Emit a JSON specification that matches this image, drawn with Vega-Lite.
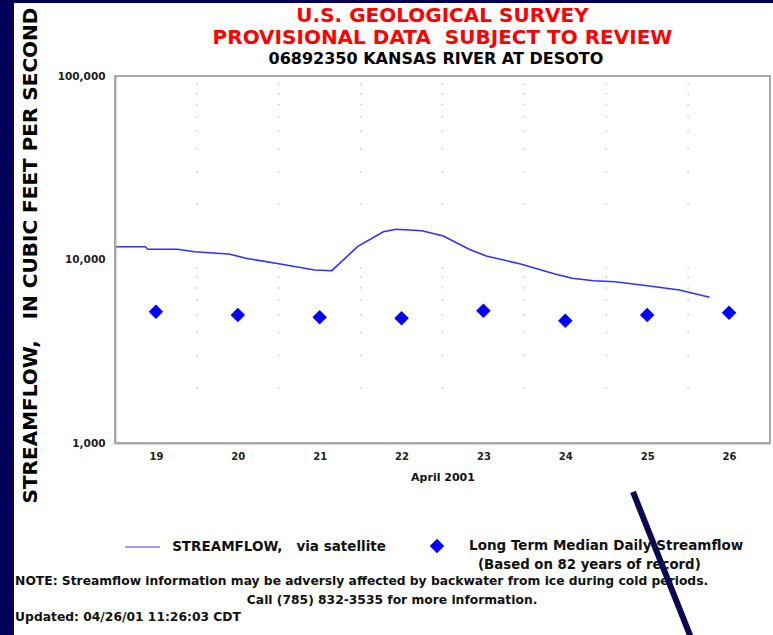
{
  "$schema": "https://vega.github.io/schema/vega-lite/v6.json",
  "width": 655,
  "height": 367,
  "autosize": "none",
  "padding": {"left": 115, "top": 76, "right": 3, "bottom": 192},
  "background": "white",
  "datasets": {
    "flow": [
      {"day": 18.516, "cfs": 11745},
      {"day": 18.867, "cfs": 11745},
      {"day": 18.904, "cfs": 11364},
      {"day": 19.261, "cfs": 11364},
      {"day": 19.470, "cfs": 11027},
      {"day": 19.890, "cfs": 10715},
      {"day": 20.099, "cfs": 10151},
      {"day": 20.519, "cfs": 9451},
      {"day": 20.938, "cfs": 8767},
      {"day": 21.148, "cfs": 8690},
      {"day": 21.462, "cfs": 11745},
      {"day": 21.777, "cfs": 14177},
      {"day": 21.934, "cfs": 14610},
      {"day": 22.249, "cfs": 14353},
      {"day": 22.510, "cfs": 13430},
      {"day": 22.825, "cfs": 11364},
      {"day": 23.035, "cfs": 10450},
      {"day": 23.454, "cfs": 9451},
      {"day": 23.873, "cfs": 8337},
      {"day": 24.083, "cfs": 7898},
      {"day": 24.345, "cfs": 7665},
      {"day": 24.607, "cfs": 7568},
      {"day": 25.027, "cfs": 7171},
      {"day": 25.394, "cfs": 6820},
      {"day": 25.762, "cfs": 6223}
    ],
    "median": [
      {"day": 19, "cfs": 5195},
      {"day": 20, "cfs": 4984},
      {"day": 21, "cfs": 4842},
      {"day": 22, "cfs": 4782},
      {"day": 23, "cfs": 5260},
      {"day": 24, "cfs": 4640},
      {"day": 25, "cfs": 4984},
      {"day": 26, "cfs": 5129}
    ],
    "grid": [
      {"d":19.5,"v":2000},{"d":19.5,"v":3000},{"d":19.5,"v":4000},{"d":19.5,"v":5000},{"d":19.5,"v":6000},{"d":19.5,"v":7000},{"d":19.5,"v":8000},{"d":19.5,"v":9000},
      {"d":19.5,"v":20000},{"d":19.5,"v":30000},{"d":19.5,"v":40000},{"d":19.5,"v":50000},{"d":19.5,"v":60000},{"d":19.5,"v":70000},{"d":19.5,"v":80000},{"d":19.5,"v":90000},
      {"d":20.5,"v":2000},{"d":20.5,"v":3000},{"d":20.5,"v":4000},{"d":20.5,"v":5000},{"d":20.5,"v":6000},{"d":20.5,"v":7000},{"d":20.5,"v":8000},{"d":20.5,"v":9000},
      {"d":20.5,"v":20000},{"d":20.5,"v":30000},{"d":20.5,"v":40000},{"d":20.5,"v":50000},{"d":20.5,"v":60000},{"d":20.5,"v":70000},{"d":20.5,"v":80000},{"d":20.5,"v":90000},
      {"d":21.5,"v":2000},{"d":21.5,"v":3000},{"d":21.5,"v":4000},{"d":21.5,"v":5000},{"d":21.5,"v":6000},{"d":21.5,"v":7000},{"d":21.5,"v":8000},{"d":21.5,"v":9000},
      {"d":21.5,"v":20000},{"d":21.5,"v":30000},{"d":21.5,"v":40000},{"d":21.5,"v":50000},{"d":21.5,"v":60000},{"d":21.5,"v":70000},{"d":21.5,"v":80000},{"d":21.5,"v":90000},
      {"d":22.5,"v":2000},{"d":22.5,"v":3000},{"d":22.5,"v":4000},{"d":22.5,"v":5000},{"d":22.5,"v":6000},{"d":22.5,"v":7000},{"d":22.5,"v":8000},{"d":22.5,"v":9000},
      {"d":22.5,"v":20000},{"d":22.5,"v":30000},{"d":22.5,"v":40000},{"d":22.5,"v":50000},{"d":22.5,"v":60000},{"d":22.5,"v":70000},{"d":22.5,"v":80000},{"d":22.5,"v":90000},
      {"d":23.5,"v":2000},{"d":23.5,"v":3000},{"d":23.5,"v":4000},{"d":23.5,"v":5000},{"d":23.5,"v":6000},{"d":23.5,"v":7000},{"d":23.5,"v":8000},{"d":23.5,"v":9000},
      {"d":23.5,"v":20000},{"d":23.5,"v":30000},{"d":23.5,"v":40000},{"d":23.5,"v":50000},{"d":23.5,"v":60000},{"d":23.5,"v":70000},{"d":23.5,"v":80000},{"d":23.5,"v":90000},
      {"d":24.5,"v":2000},{"d":24.5,"v":3000},{"d":24.5,"v":4000},{"d":24.5,"v":5000},{"d":24.5,"v":6000},{"d":24.5,"v":7000},{"d":24.5,"v":8000},{"d":24.5,"v":9000},
      {"d":24.5,"v":20000},{"d":24.5,"v":30000},{"d":24.5,"v":40000},{"d":24.5,"v":50000},{"d":24.5,"v":60000},{"d":24.5,"v":70000},{"d":24.5,"v":80000},{"d":24.5,"v":90000},
      {"d":25.5,"v":2000},{"d":25.5,"v":3000},{"d":25.5,"v":4000},{"d":25.5,"v":5000},{"d":25.5,"v":6000},{"d":25.5,"v":7000},{"d":25.5,"v":8000},{"d":25.5,"v":9000},
      {"d":25.5,"v":20000},{"d":25.5,"v":30000},{"d":25.5,"v":40000},{"d":25.5,"v":50000},{"d":25.5,"v":60000},{"d":25.5,"v":70000},{"d":25.5,"v":80000},{"d":25.5,"v":90000}
    ]
  },
  "layer": [
    {
      "data": {"name": "flow"},
      "mark": {"type": "line", "strokeWidth": 1.6, "color": "#3030ff", "clip": true},
      "encoding": {
        "x": {
          "field": "day", "type": "quantitative",
          "scale": {"domain": [18.5, 26.5], "nice": false, "zero": false},
          "axis": {
            "orient": "bottom",
            "values": [19, 20, 21, 22, 23, 24, 25, 26], "format": "d",
            "title": "April 2001", "titlePadding": 10,
            "labelPadding": 8, "labelFontSize": 10,
            "titleFont": "DejaVu Sans", "titleFontSize": 11, "titleFontWeight": "bold", "titleColor": "#111"
          }
        },
        "y": {
          "field": "cfs", "type": "quantitative",
          "scale": {"type": "log", "domain": [1000, 100000], "nice": false},
          "axis": {
            "orient": "left",
            "values": [1000, 10000, 100000], "format": ",",
            "title": "STREAMFLOW,\u00a0\u00a0 IN CUBIC FEET PER SECOND",
            "titleAngle": 270, "titleAlign": "center", "titleBaseline": "middle",
            "titleX": -85, "titleY": 179,
            "titleFont": "DejaVu Sans", "titleFontSize": 20, "titleFontWeight": "bold", "titleColor": "#000",
            "labelPadding": 10, "labelFontSize": 10.5
          }
        }
      }
    },
    {
      "data": {"name": "grid"},
      "mark": {"type": "point", "shape": "square", "filled": true, "size": 2, "color": "#c4c4c4", "opacity": 1},
      "encoding": {
        "x": {"field": "d", "type": "quantitative"},
        "y": {"field": "v", "type": "quantitative"}
      }
    },
    {
      "data": {"name": "median"},
      "mark": {"type": "point", "shape": "diamond", "filled": true, "size": 210, "color": "#0000ff", "opacity": 1},
      "encoding": {
        "x": {"field": "day", "type": "quantitative"},
        "y": {"field": "cfs", "type": "quantitative"}
      }
    },
    {
      "data": {"values": [{}]},
      "mark": {"type": "rect", "color": "#000058", "clip": false},
      "encoding": {
        "x": {"datum": 16.5, "type": "quantitative"}, "x2": {"datum": 17.266},
        "y": {"datum": 10, "type": "quantitative"}, "y2": {"datum": 10000000}
      }
    },
    {
      "data": {"values": [{}]},
      "mark": {"type": "rect", "color": "#000058", "clip": false},
      "encoding": {
        "x": {"datum": 16.5, "type": "quantitative"}, "x2": {"datum": 27.5},
        "y": {"datum": 250000, "type": "quantitative"}, "y2": {"datum": 10000000}
      }
    },
    {
      "data": {"values": [{}]},
      "mark": {"type": "text", "text": "U.S. GEOLOGICAL SURVEY", "align": "center", "baseline": "middle", "font": "DejaVu Sans", "fontSize": 20, "fontWeight": "bold", "color": "#ff0000", "clip": false},
      "encoding": {"x": {"datum": 22.5, "type": "quantitative"}, "y": {"datum": 212400, "type": "quantitative"}}
    },
    {
      "data": {"values": [{}]},
      "mark": {"type": "text", "text": "PROVISIONAL DATA\u00a0 SUBJECT TO REVIEW", "align": "center", "baseline": "middle", "font": "DejaVu Sans", "fontSize": 20, "fontWeight": "bold", "color": "#ff0000", "clip": false},
      "encoding": {"x": {"datum": 22.5, "type": "quantitative"}, "y": {"datum": 161100, "type": "quantitative"}}
    },
    {
      "data": {"values": [{}]},
      "mark": {"type": "text", "text": "06892350 KANSAS RIVER AT DESOTO", "align": "center", "baseline": "middle", "font": "DejaVu Sans", "fontSize": 16, "fontWeight": "bold", "color": "#000000", "clip": false},
      "encoding": {"x": {"datum": 22.42, "type": "quantitative"}, "y": {"datum": 123800, "type": "quantitative"}}
    },
    {
      "data": {"values": [{}]},
      "mark": {"type": "rule", "color": "#9c9cff", "strokeWidth": 2, "clip": false},
      "encoding": {
        "x": {"datum": 18.623, "type": "quantitative"}, "x2": {"datum": 19.05},
        "y": {"datum": 271.2, "type": "quantitative"}
      }
    },
    {
      "data": {"values": [{}]},
      "mark": {"type": "text", "text": "STREAMFLOW,\u00a0\u00a0 via satellite", "align": "left", "baseline": "middle", "font": "DejaVu Sans", "fontSize": 13.5, "fontWeight": "bold", "color": "#111", "clip": false},
      "encoding": {"x": {"datum": 19.198, "type": "quantitative"}, "y": {"datum": 271.2, "type": "quantitative"}}
    },
    {
      "data": {"values": [{}]},
      "mark": {"type": "point", "shape": "diamond", "filled": true, "size": 210, "color": "#0000ff", "opacity": 1, "clip": false},
      "encoding": {"x": {"datum": 22.433, "type": "quantitative"}, "y": {"datum": 274.6, "type": "quantitative"}}
    },
    {
      "data": {"values": [{}]},
      "mark": {"type": "text", "text": "Long Term Median Daily Streamflow", "align": "left", "baseline": "middle", "font": "DejaVu Sans", "fontSize": 13.5, "fontWeight": "bold", "color": "#111", "clip": false},
      "encoding": {"x": {"datum": 22.824, "type": "quantitative"}, "y": {"datum": 274.6, "type": "quantitative"}}
    },
    {
      "data": {"values": [{}]},
      "mark": {"type": "text", "text": "(Based on 82 years of record)", "align": "left", "baseline": "middle", "font": "DejaVu Sans", "fontSize": 13.3, "fontWeight": "bold", "color": "#111", "clip": false},
      "encoding": {"x": {"datum": 22.934, "type": "quantitative"}, "y": {"datum": 216.3, "type": "quantitative"}}
    },
    {
      "data": {"values": [{}]},
      "mark": {"type": "text", "text": "NOTE: Streamflow information may be adversly affected by backwater from ice during cold periods.", "align": "left", "baseline": "middle", "font": "DejaVu Sans", "fontSize": 12.3, "fontWeight": "bold", "color": "#111", "clip": false},
      "encoding": {"x": {"datum": 17.28, "type": "quantitative"}, "y": {"datum": 177.0, "type": "quantitative"}}
    },
    {
      "data": {"values": [{}]},
      "mark": {"type": "text", "text": "Call (785) 832-3535 for more information.", "align": "center", "baseline": "middle", "font": "DejaVu Sans", "fontSize": 12.3, "fontWeight": "bold", "color": "#111", "clip": false},
      "encoding": {"x": {"datum": 21.884, "type": "quantitative"}, "y": {"datum": 139.5, "type": "quantitative"}}
    },
    {
      "data": {"values": [{}]},
      "mark": {"type": "text", "text": "Updated: 04/26/01 11:26:03 CDT", "align": "left", "baseline": "middle", "font": "DejaVu Sans", "fontSize": 12.3, "fontWeight": "bold", "color": "#111", "clip": false},
      "encoding": {"x": {"datum": 17.28, "type": "quantitative"}, "y": {"datum": 112.7, "type": "quantitative"}}
    },
    {
      "data": {"values": [{}]},
      "mark": {"type": "rule", "color": "#0a0a4e", "strokeWidth": 6, "clip": false},
      "encoding": {
        "x": {"datum": 24.827, "type": "quantitative"}, "x2": {"datum": 25.567},
        "y": {"datum": 541, "type": "quantitative"}, "y2": {"datum": 80}
      }
    }
  ],
  "config": {
    "view": {"stroke": "#a8a8a8", "strokeWidth": 2},
    "axis": {
      "domainColor": "#a8a8a8", "domainWidth": 2, "ticks": false, "grid": false,
      "labelFont": "DejaVu Sans", "labelFontWeight": "bold", "labelColor": "#222",
      "zindex": 1
    }
  }
}
